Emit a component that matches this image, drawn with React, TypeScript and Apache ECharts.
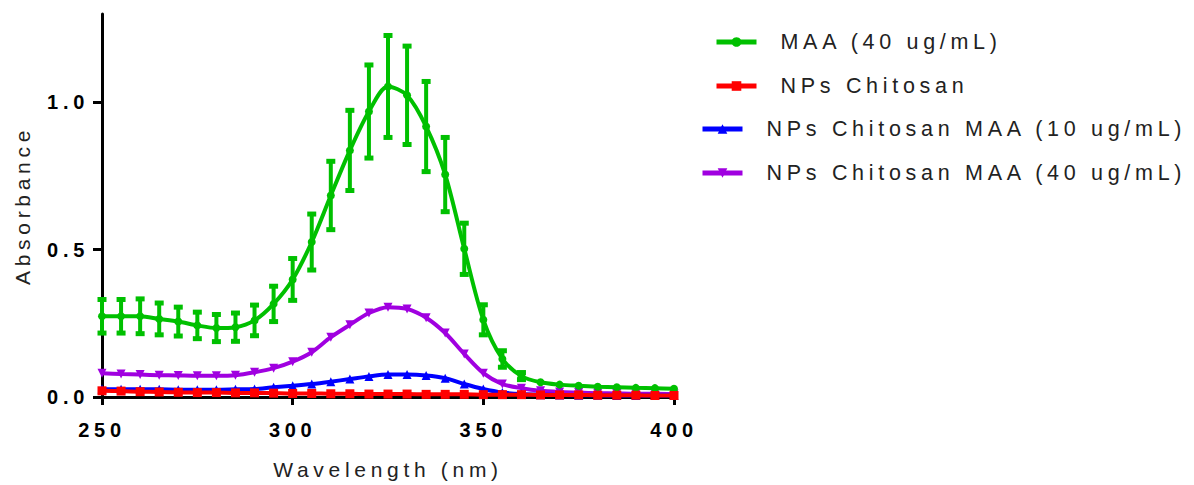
import React, { useEffect, useRef } from "react";
import * as echarts from "echarts";

const wavelengths = [250,255,260,265,270,275,280,285,290,295,300,305,310,315,320,325,330,335,340,345,350,355,360,365,370,375,380,385,390,395,400];
const maa40 = [0.274,0.274,0.274,0.265,0.256,0.243,0.234,0.237,0.26,0.316,0.399,0.526,0.684,0.837,0.969,1.054,1.024,0.918,0.755,0.503,0.262,0.129,0.071,0.05,0.042,0.038,0.035,0.033,0.031,0.03,0.028];
const maa40Err = [0.057,0.057,0.059,0.054,0.049,0.045,0.046,0.048,0.052,0.06,0.071,0.095,0.116,0.136,0.158,0.173,0.167,0.153,0.126,0.087,0.051,0.028,0.012,0,0,0,0,0,0,0,0];
const npsChitosan = [0.021,0.02,0.018,0.017,0.016,0.015,0.015,0.014,0.014,0.013,0.012,0.012,0.011,0.011,0.01,0.01,0.01,0.009,0.009,0.009,0.008,0.008,0.008,0.007,0.007,0.007,0.006,0.006,0.006,0.005,0.005];
const npsMaa10 = [0.027,0.026,0.026,0.026,0.025,0.025,0.025,0.026,0.027,0.033,0.038,0.044,0.052,0.061,0.07,0.076,0.076,0.073,0.064,0.044,0.027,0.015,0.01,0.008,0.007,0.006,0.006,0.005,0.005,0.005,0.005];
const npsMaa40 = [0.081,0.078,0.076,0.074,0.073,0.072,0.072,0.074,0.084,0.098,0.12,0.152,0.203,0.245,0.285,0.305,0.299,0.269,0.217,0.146,0.081,0.044,0.03,0.021,0.017,0.015,0.013,0.012,0.011,0.011,0.01];
const yTicks = [0, 0.5, 1.0];
const names = ["MAA (40 ug/mL)", "NPs Chitosan", "NPs Chitosan MAA (10 ug/mL)", "NPs Chitosan MAA (40 ug/mL)"];

const GREEN = "#00C000";
const RED = "#FF0000";
const BLUE = "#0000FF";
const PURPLE = "#A000E0";

const pairs = (vals: number[]) => wavelengths.map((w, i) => [w, vals[i]]);

export default function App() {
  const ref = useRef<HTMLDivElement>(null);
  useEffect(() => {
    const chart = echarts.init(ref.current!, null, { renderer: "svg" });
    const font = "Liberation Sans, Arial, sans-serif";
    const legendText = { fontFamily: font, fontSize: 21.5, color: "#222", padding: [0, 0, 0, 19], lineHeight: 22 };
    chart.setOption({
      animation: false,
      backgroundColor: "#fff",
      grid: { left: 102, right: 520, top: 14, bottom: 87, containLabel: false },
      xAxis: {
        type: "value",
        min: 250,
        max: 400,
        interval: 50,
        name: "Wavelength (nm)",
        nameLocation: "middle",
        nameGap: 62,
        nameTextStyle: { fontFamily: font, fontSize: 21, color: "#222" },
        axisLine: { onZero: false, lineStyle: { color: "#000", width: 3 } },
        axisTick: { show: true, length: 8, lineStyle: { color: "#000", width: 3 } },
        axisLabel: { margin: 23, fontFamily: font, fontWeight: "bold", fontSize: 20, color: "#000" },
        splitLine: { show: false },
      },
      yAxis: {
        type: "value",
        min: 0,
        max: 1.3,
        name: "Absorbance",
        nameLocation: "middle",
        nameGap: 69,
        nameTextStyle: { fontFamily: font, fontSize: 21, color: "#222" },
        axisLine: { show: true, lineStyle: { color: "#000", width: 3 } },
        axisTick: { show: true, length: 9, customValues: yTicks, lineStyle: { color: "#000", width: 3 } },
        axisLabel: {
          customValues: yTicks,
          margin: 13,
          fontFamily: font,
          fontWeight: "bold",
          fontSize: 20,
          color: "#000",
          formatter: (v: number) => v.toFixed(1),
        },
        splitLine: { show: false },
      },
      legend: [
        {
          data: [names[0], names[1]],
          orient: "vertical",
          left: 714,
          top: 31,
          padding: 0,
          itemWidth: 40,
          itemHeight: 12,
          itemGap: 22,
          lineStyle: { width: 5 },
          textStyle: legendText,
        },
        {
          data: [names[2], names[3]],
          orient: "vertical",
          left: 700,
          top: 118,
          padding: 0,
          itemWidth: 40,
          itemHeight: 12,
          itemGap: 22,
          lineStyle: { width: 5 },
          textStyle: legendText,
        },
      ],
      series: [
        {
          name: names[0],
          type: "line",
          data: pairs(maa40),
          smooth: 0.3,
          symbol: "circle",
          symbolSize: 8,
          lineStyle: { color: GREEN, width: 4 },
          itemStyle: { color: GREEN },
          z: 3,
        },
        {
          name: "err",
          type: "custom",
          data: wavelengths.map((w, i) => [w, maa40[i], maa40Err[i]]),
          z: 3,
          renderItem: (params: any, api: any) => {
            const x = api.value(0);
            const y = api.value(1);
            const e = api.value(2);
            if (!e) return null;
            const top = api.coord([x, y + e]);
            const bot = api.coord([x, y - e]);
            return {
              type: "group",
              children: [
                { type: "line", shape: { x1: top[0], y1: top[1], x2: bot[0], y2: bot[1] }, style: { stroke: GREEN, lineWidth: 4 } },
                { type: "rect", shape: { x: top[0] - 4.5, y: top[1] - 2.5, width: 9, height: 5 }, style: { fill: GREEN } },
                { type: "rect", shape: { x: bot[0] - 4.5, y: bot[1] - 2.5, width: 9, height: 5 }, style: { fill: GREEN } },
              ],
            };
          },
        },
        {
          name: names[3],
          type: "line",
          data: pairs(npsMaa40),
          smooth: 0.3,
          symbol: "triangle",
          symbolRotate: 180,
          symbolSize: 9,
          lineStyle: { color: PURPLE, width: 4 },
          itemStyle: { color: PURPLE },
          z: 2,
        },
        {
          name: names[2],
          type: "line",
          data: pairs(npsMaa10),
          smooth: 0.3,
          symbol: "triangle",
          symbolSize: 9,
          lineStyle: { color: BLUE, width: 4 },
          itemStyle: { color: BLUE },
          z: 4,
        },
        {
          name: names[1],
          type: "line",
          data: pairs(npsChitosan),
          smooth: 0.3,
          symbol: "rect",
          symbolSize: 9,
          lineStyle: { color: RED, width: 4 },
          itemStyle: { color: RED },
          z: 5,
        },
      ],
    });
    return () => chart.dispose();
  }, []);
  return (
    <div
      ref={ref}
      style={{ position: "fixed", left: 0, top: 0, width: 1194, height: 485, letterSpacing: "4.7px" }}
    />
  );
}
